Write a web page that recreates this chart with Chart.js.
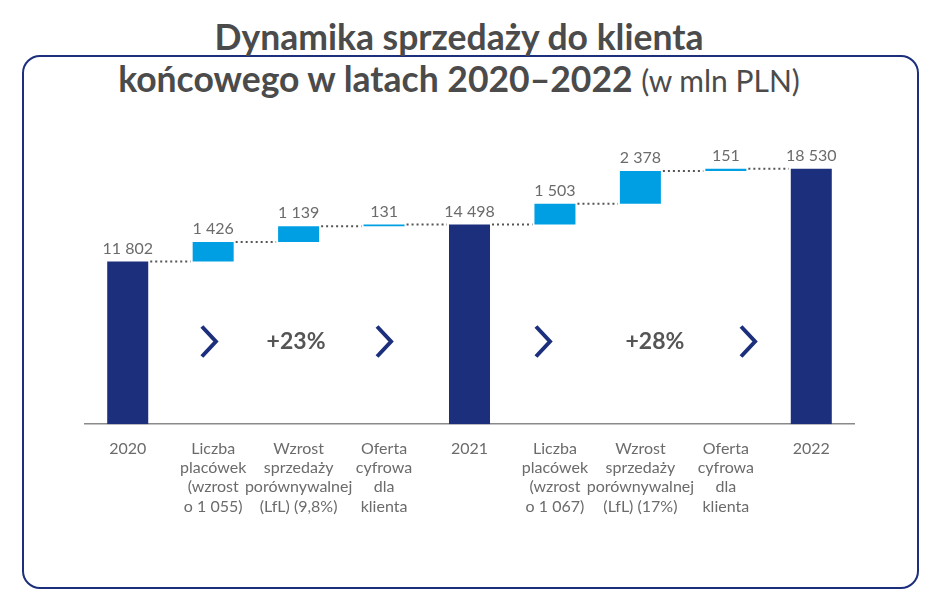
<!DOCTYPE html>
<html>
<head>
<meta charset="utf-8">
<script src="https://cdn.jsdelivr.net/npm/chart.js@4.4.1/dist/chart.umd.min.js"></script>
<style>
  html, body { margin: 0; padding: 0; background: #fff; }
  #wrap { position: relative; width: 948px; height: 614px; overflow: hidden; }
  #frame {
    position: absolute; left: 22px; top: 55px; width: 893px; height: 530px;
    border: 2px solid #1c2f7c; border-radius: 18px; box-sizing: content-box;
  }
  #title {
    position: absolute; left: 0; top: 16px; width: 918px; text-align: center;
    font-family: Lato, sans-serif; color: #4b4b4b; font-weight: 700;
    font-size: 35.5px; line-height: 42px;
  }
  #title span.line2 { background: #fff; padding: 0 4px; }
  #title span.unit { font-weight: 400; font-size: 30px; }
  #chart { position: absolute; left: 0; top: 0; }
</style>
</head>
<body>
<div id="wrap">
  <div id="frame"></div>
  <div id="title">Dynamika sprzedaży do klienta<br><span class="line2">końcowego w latach 2020–2022 <span class="unit">(w mln PLN)</span></span></div>
  <canvas id="chart" width="948" height="614"></canvas>
</div>
<script>
// categories (multi-line tick labels)
const categories = [
  ['2020'],
  ['Liczba', 'placówek', '(wzrost', 'o 1 055)'],
  ['Wzrost', 'sprzedaży', 'porównywalnej', '(LfL) (9,8%)'],
  ['Oferta', 'cyfrowa', 'dla', 'klienta'],
  ['2021'],
  ['Liczba', 'placówek', '(wzrost', 'o 1 067)'],
  ['Wzrost', 'sprzedaży', 'porównywalnej', '(LfL) (17%)'],
  ['Oferta', 'cyfrowa', 'dla', 'klienta'],
  ['2022']
];
// step values, in mln PLN
const steps = [11802, 1426, 1139, 131, 14498, 1503, 2378, 151, 18530];
const isTotal = [true, false, false, false, true, false, false, false, true];
// growth labels between years
const growthLabels = ['+23%', '+28%'];

const NAVY = '#1c2f7c';
const BLUE = '#009fe3';
const GREY = '#6b6b6b';

// floating ranges for the waterfall
let running = 0;
const ranges = steps.map((v, i) => {
  if (isTotal[i]) { running = v; return [0, v]; }
  const r = [running, running + v];
  running += v;
  return r;
});

const fmt = v => String(v).replace(/\B(?=(\d{3})+(?!\d))/g, ' ');

// value labels, dotted connectors, chevrons and growth text
const waterfallDecor = {
  id: 'waterfallDecor',
  afterDatasetsDraw(chart) {
    const { ctx, scales: { x, y } } = chart;
    const bars = chart.getDatasetMeta(0).data;
    ctx.save();

    // dotted connectors
    ctx.strokeStyle = '#555';
    ctx.lineWidth = 2;
    ctx.setLineDash([2, 3]);
    for (let i = 0; i < bars.length - 1; i++) {
      const yy = y.getPixelForValue(ranges[i][1]);
      ctx.beginPath();
      ctx.moveTo(bars[i].x + bars[i].width / 2 + 2, yy);
      ctx.lineTo(bars[i + 1].x - bars[i + 1].width / 2 - 2, yy);
      ctx.stroke();
    }
    ctx.setLineDash([]);

    // value labels
    ctx.fillStyle = GREY;
    ctx.font = '16px Lato, sans-serif';
    ctx.textAlign = 'center';
    ctx.textBaseline = 'bottom';
    bars.forEach((b, i) => {
      const top = Math.min(b.y, b.base);
      ctx.fillText(fmt(steps[i]), b.x, top - 5);
    });

    // chevrons
    const markY = y.getPixelForValue(6000);
    ctx.strokeStyle = NAVY;
    ctx.lineWidth = 4;
    [0.95, 3, 4.86, 7.26].forEach(pos => {
      const cx = x.getPixelForValue(pos);
      ctx.beginPath();
      ctx.moveTo(cx - 7, markY - 15);
      ctx.lineTo(cx + 7, markY);
      ctx.lineTo(cx - 7, markY + 15);
      ctx.stroke();
    });

    // growth labels
    ctx.fillStyle = '#555';
    ctx.font = 'bold 23px Lato, sans-serif';
    ctx.textBaseline = 'middle';
    [1.97, 6.17].forEach((pos, i) => {
      ctx.fillText(growthLabels[i], x.getPixelForValue(pos), markY);
    });
    ctx.restore();
  }
};

new Chart(document.getElementById('chart').getContext('2d'), {
  type: 'bar',
  data: {
    labels: categories,
    datasets: [{
      data: ranges,
      backgroundColor: isTotal.map(t => t ? NAVY : BLUE),
      borderSkipped: false,
      barPercentage: 0.48,
      categoryPercentage: 1
    }]
  },
  options: {
    responsive: false,
    animation: false,
    layout: { padding: { top: 121, left: 85, right: 94, bottom: 91 } },
    scales: {
      x: {
        grid: { display: false },
        border: { display: true, color: '#8a8a8a', width: 1.5 },
        ticks: {
          color: GREY,
          font: { family: 'Lato, sans-serif', size: 16, lineHeight: 1.2 },
          padding: 7,
          maxRotation: 0,
          autoSkip: false
        }
      },
      y: { display: false, min: 0, max: 22000 }
    },
    plugins: {
      legend: { display: false },
      tooltip: { enabled: false }
    }
  },
  plugins: [waterfallDecor]
});
</script>
</body>
</html>
